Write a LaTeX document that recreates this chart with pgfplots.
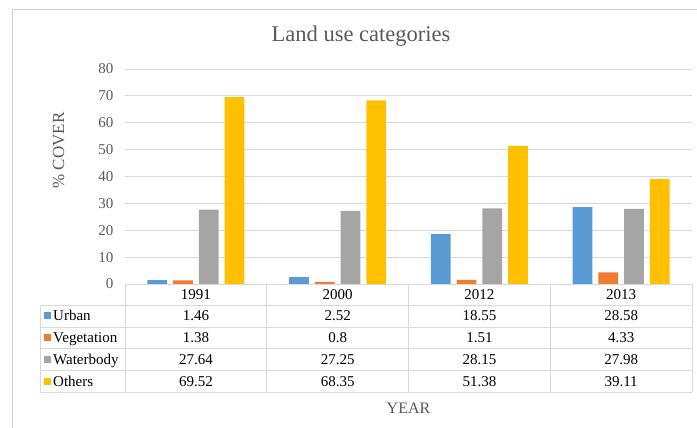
\documentclass[border=0pt]{standalone}
\usepackage{pgfplots}
\pgfplotsset{compat=1.18}
\usepackage{pgfplotstable}
\usepackage{fontspec}
\setmainfont{Liberation Serif}

\definecolor{cUrban}{HTML}{5B9BD5}
\definecolor{cVeg}{HTML}{ED7D31}
\definecolor{cWater}{HTML}{A5A5A5}
\definecolor{cOther}{HTML}{FFC000}
\definecolor{gridc}{HTML}{D9D9D9}
\definecolor{txtgray}{HTML}{595959}
\definecolor{framec}{HTML}{D0D0D0}

% year index, then % cover of each class
\pgfplotstableread{
x  urban veg  water others
0  1.46  1.38 27.64 69.52
1  2.52  0.8  27.25 68.35
2  18.55 1.51 28.15 51.38
3  28.58 4.33 27.98 39.11
}\landuse

\begin{document}
\begin{tikzpicture}[x=1pt,y=1pt]
\useasboundingbox (0,0) rectangle (697,428);
% outer chart frame
\draw[framec, line width=1pt] (12,0) -- (12,418.5) -- (697,418.5);

\begin{axis}[
  at={(125pt,144pt)}, anchor=south west,
  scale only axis, width=567pt, height=215pt,
  xmin=-0.5, xmax=3.5, ymin=0, ymax=80,
  ytick={0,10,...,80}, xtick=\empty,
  ymajorgrids, grid style={gridc, line width=0.8pt},
  axis line style={draw=none}, major tick length=0pt,
  yticklabel style={font=\fontsize{15}{15}\selectfont, text=txtgray, xshift=-8pt},
  /pgf/number format/assume math mode=true,
  ybar, bar width=0.139,
  clip=false,
]
\addplot[draw=none, fill=cUrban, bar shift=-0.272] table[x=x, y=urban] {\landuse};
\addplot[draw=none, fill=cVeg,   bar shift=-0.091] table[x=x, y=veg] {\landuse};
\addplot[draw=none, fill=cWater, bar shift=0.091]  table[x=x, y=water] {\landuse};
\addplot[draw=none, fill=cOther, bar shift=0.272]  table[x=x, y=others] {\landuse};
\end{axis}

% title and axis titles
\node[text=txtgray, font=\fontsize{22.5}{22.5}\selectfont] at (361,392) {Land use categories};
\node[text=txtgray, font=\fontsize{17}{17}\selectfont, rotate=90] at (58.5,277.5) {\% COVER};
\node[text=txtgray, font=\fontsize{16}{16}\selectfont] at (408.5,20) {YEAR};

% data table grid
\begin{scope}[gridc, line width=0.8pt]
  \draw (125,144) -- (692,144);
  \foreach \yy in {123,101,79.5,57.5,36} \draw (40,\yy) -- (692,\yy);
  \draw (40,123) -- (40,36);
  \foreach \xx in {125,266.75,408.5,550.25,692} \draw (\xx,144) -- (\xx,36);
\end{scope}

\begin{scope}[font=\fontsize{15}{15}\selectfont]
% header row
\foreach \lab [count=\i from 0] in {1991,2000,2012,2013}
  \node[anchor=base] at (195.875+141.75*\i,128.5) {\lab};
% row labels with colour keys
\foreach \lab/\col/\yc in {Urban/cUrban/112, Vegetation/cVeg/90.25, Waterbody/cWater/68.5, Others/cOther/46.75}{
  \fill[\col] (44,\yc-3.5) rectangle (51,\yc+3.5);
  \node[anchor=base west, inner sep=0pt] at (53,\yc-5) {\lab};
}
% cell values
\foreach \a/\b/\c/\d [count=\r from 0] in {1.46/2.52/18.55/28.58, 1.38/0.8/1.51/4.33, 27.64/27.25/28.15/27.98, 69.52/68.35/51.38/39.11}{
  \pgfmathsetmacro{\yc}{112-21.75*\r-5}
  \node[anchor=base] at (195.875,\yc) {\a};
  \node[anchor=base] at (337.625,\yc) {\b};
  \node[anchor=base] at (479.375,\yc) {\c};
  \node[anchor=base] at (621.125,\yc) {\d};
}
\end{scope}
\end{tikzpicture}
\end{document}
